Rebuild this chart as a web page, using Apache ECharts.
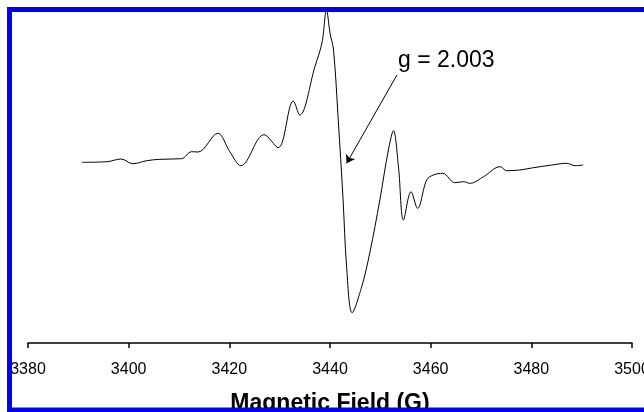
<!DOCTYPE html>
<html>
<head>
<meta charset="utf-8">
<script src="https://cdn.jsdelivr.net/npm/echarts@6/dist/echarts.min.js"></script>
<style>
  html, body { margin: 0; padding: 0; background: #fff; }
  #main { width: 644px; height: 412px; }
</style>
</head>
<body>
<div id="main"></div>
<script>
  // magnetic field (G) and signal (arb. units)
  var field = [3390.7, 3395.7, 3398.5, 3400.8, 3403.6, 3406.2, 3410.5, 3412.5, 3413.8, 3417.7,
    3420.1, 3422.3, 3426.9, 3429.7, 3432.7, 3434.0, 3437.0, 3438.4, 3439.3, 3440.0,
    3440.7, 3441.6, 3442.6, 3443.3, 3444.4, 3446.3, 3447.9, 3449.9, 3451.6, 3452.6,
    3453.6, 3454.6, 3456.1, 3457.4, 3459.2, 3460.5, 3462.4, 3464.8, 3466.5, 3467.8,
    3470.5, 3473.8, 3475.1, 3477.7, 3480.4, 3483.7, 3487.0, 3488.7, 3490.3];
  var signal = [-0.3, 0.3, 3, -1.7, 1.3, 2.7, 3.3, 10.3, 10, 28.7,
    10.3, -3.7, 27.3, 14.3, 61, 47, 95.3, 119, 152, 129,
    112, 45.3, -38, -104.7, -150.7, -124.7, -91, -38, 12, 31.3,
    -4.7, -58, -29.7, -46.3, -18, -13, -11.3, -20.7, -19.7, -21.3,
    -14.7, -4.7, -8.7, -8, -5.7, -3.3, -1.3, -3.7, -3];

  // annotation arrow: from label to the line centre
  var arrowFrom = [3453.3, 87];
  var arrowTo = [3443.3, -1.3];
  var gLabel = 'g = 2.003';

  var points = field.map(function (f, i) { return [f, signal[i]]; });

  var myChart = echarts.init(document.getElementById('main'));
  var option = {
    backgroundColor: '#fff',
    animation: false,
    grid: { left: 28, right: 12, top: 0, bottom: 69, outerBoundsMode: 'none', containLabel: false },
    xAxis: {
      type: 'value',
      min: 3380,
      max: 3500,
      interval: 20,
      name: 'Magnetic Field (G)',
      nameLocation: 'middle',
      nameGap: 49,
      nameTextStyle: { color: '#000', fontSize: 23, fontWeight: 'bold', fontFamily: 'Liberation Sans, Arial' },
      axisLine: { onZero: false, lineStyle: { color: '#000', width: 1.5 } },
      axisTick: { length: 5, lineStyle: { color: '#000', width: 1.5 } },
      axisLabel: {
        color: '#000', fontSize: 16, margin: 19, fontFamily: 'Liberation Sans, Arial',
        formatter: function (v) { return String(v); }
      },
      splitLine: { show: false }
    },
    yAxis: {
      type: 'value',
      min: -181,
      max: 162,
      show: false
    },
    series: [{
      type: 'line',
      data: points,
      smooth: 0.35,
      symbol: 'none',
      lineStyle: { color: '#000', width: 1 },
      markLine: {
        silent: true,
        symbol: ['none', 'arrow'],
        symbolSize: 8,
        label: { show: false },
        lineStyle: { color: '#000', width: 1, type: 'solid' },
        data: [[{ coord: arrowFrom }, { coord: arrowTo }]]
      }
    }],
    graphic: [
      {
        type: 'text',
        x: 398,
        y: 49,
        style: { text: gLabel, fill: '#000', fontSize: 23, fontFamily: 'Liberation Sans, Arial' }
      },
      {
        type: 'rect',
        z: 100,
        shape: { x: 9.5, y: 9.5, width: 700, height: 400.5 },
        style: { fill: 'none', stroke: '#0000ff', lineWidth: 5 }
      }
    ]
  };
  myChart.setOption(option);
</script>
</body>
</html>
